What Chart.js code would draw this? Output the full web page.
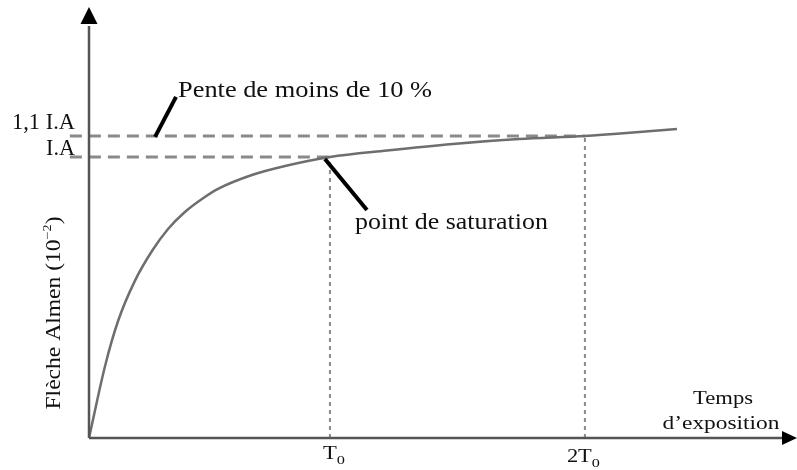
<!DOCTYPE html>
<html lang="fr">
<head>
<meta charset="utf-8">
<title>Flèche Almen</title>
<script src="https://cdn.jsdelivr.net/npm/chart.js@4.4.1/dist/chart.umd.min.js"></script>
<style>
  html, body { margin: 0; padding: 0; background: #fff; }
  canvas { display: block; }
  .preload { font-family: "Liberation Serif"; position: absolute; left: -999px; }
</style>
</head>
<body>
<span class="preload">Pente 10 %</span>
<canvas id="almen" width="797" height="470"></canvas>
<script>
// Saturation curve: exposure time (T0 = 10) against Almen deflection (I.A = 10)
const exposureTimes = [0.55, 1.18, 1.69, 2.35, 3.02, 3.65, 4.31, 4.98, 5.61, 6.94, 8.24,
  10, 12.24, 14.82, 17.41, 20, 21.76, 23.61];
const almenDeflection = [-3.38, 0.05, 2.19, 4.10, 5.52, 6.57, 7.38, 8.00, 8.48, 9.14, 9.57,
  10, 10.31, 10.62, 10.85, 11.00, 11.15, 11.33];

// reference values
const T0 = 10;
const timeMarks = [T0, 2 * T0];
const IA = 10;
const deflectionMarks = [1.1 * IA, IA];
const timeTickLabels = [['T', '0'], ['2T', '0']];
const deflectionTickLabels = ['1,1 I.A', 'I.A'];

// axis bounds
const T_MIN = 0.55, T_MAX = 28.24;
const Y_MIN = -3.38, Y_MAX = 16.9;
const DASH_START = -0.2;

const SERIF = '"Liberation Serif", "Times New Roman", serif';
const INK = '#111';

// draws text runs (text, size, drop) squeezed/stretched to a given width
function drawRuns(ctx, runs, x, y, width, align) {
  let natural = 0;
  runs.forEach(r => {
    ctx.font = r[1] + 'px ' + SERIF;
    natural += ctx.measureText(r[0]).width;
  });
  const left = align === 'right' ? x - width : align === 'center' ? x - width / 2 : x;
  ctx.save();
  ctx.translate(left, y);
  ctx.scale(width / natural, 1);
  ctx.fillStyle = INK;
  ctx.textBaseline = 'alphabetic';
  let cx = 0;
  runs.forEach(r => {
    ctx.font = r[1] + 'px ' + SERIF;
    ctx.fillText(r[0], cx, r[2] || 0);
    cx += ctx.measureText(r[0]).width;
  });
  ctx.restore();
}

function line(ctx, x1, y1, x2, y2, color, w) {
  ctx.beginPath();
  ctx.moveTo(x1, y1);
  ctx.lineTo(x2, y2);
  ctx.strokeStyle = color;
  ctx.lineWidth = w;
  ctx.stroke();
}

const sketchPlugin = {
  id: 'sketch',
  afterDatasetsDraw(chart) {
    const { ctx, chartArea: a, scales: { x, y } } = chart;
    ctx.save();
    ctx.lineCap = 'butt';

    // axes with arrow heads
    line(ctx, a.left, a.bottom, a.left, a.top + 14, '#555', 2.5);
    line(ctx, a.left, a.bottom, a.right - 12, a.bottom, '#555', 2.5);
    ctx.fillStyle = '#000';
    ctx.beginPath();
    ctx.moveTo(a.left, a.top - 5);
    ctx.lineTo(a.left - 8.5, a.top + 12);
    ctx.lineTo(a.left + 8.5, a.top + 12);
    ctx.closePath();
    ctx.fill();
    ctx.beginPath();
    ctx.moveTo(a.right + 2, a.bottom);
    ctx.lineTo(a.right - 13, a.bottom - 7);
    ctx.lineTo(a.right - 13, a.bottom + 7);
    ctx.closePath();
    ctx.fill();

    // leader lines
    const upper = y.getPixelForValue(deflectionMarks[0]);
    const ia = y.getPixelForValue(IA);
    const slopeX = x.getPixelForValue(3.14);
    line(ctx, slopeX, upper + 1, slopeX + 21, upper - 39, '#000', 4);
    const satX = x.getPixelForValue(T0);
    line(ctx, satX - 5, ia + 2, satX + 37, ia + 53, '#000', 4);

    // annotations
    drawRuns(ctx, [['Pente de moins de 10 %', 24]], slopeX + 23, upper - 39, 254, 'left');
    drawRuns(ctx, [['point de saturation', 23]], satX + 25, ia + 72, 193, 'left');

    // y tick labels
    deflectionMarks.forEach((v, i) => {
      const py = y.getPixelForValue(v);
      drawRuns(ctx, [[deflectionTickLabels[i], 23]], 75, py - 7 + (i ? 5 : 0),
        i ? 29 : 63, 'right');
    });

    // x tick labels
    timeMarks.forEach((v, i) => {
      const px = x.getPixelForValue(v);
      const l = timeTickLabels[i];
      const runs = [[l[0], 18], [l[1], 13, 5]];
      if (i === 0) drawRuns(ctx, runs, px - 7, a.bottom + 21, 22, 'left');
      else drawRuns(ctx, runs, px - 18, a.bottom + 24, 33, 'left');
    });

    // axis titles
    drawRuns(ctx, [['Temps', 19]], 723, 404, 60, 'center');
    drawRuns(ctx, [['d\u2019exposition', 19]], 721, 429, 117, 'center');

    ctx.save();
    ctx.translate(60, 313);
    ctx.rotate(-Math.PI / 2);
    drawRuns(ctx, [['Flèche Almen (10', 20], ['\u22122', 12, -9], [')', 20]], 0, 0, 193, 'center');
    ctx.restore();

    ctx.restore();
  }
};

const curve = exposureTimes.map((t, i) => ({ x: t, y: almenDeflection[i] }));

function build() {
  new Chart(document.getElementById('almen'), {
    type: 'scatter',
    data: {
      datasets: [
        {
          data: curve,
          showLine: true,
          borderColor: '#6e6e6e',
          borderWidth: 2.5,
          pointRadius: 0,
          cubicInterpolationMode: 'monotone',
          order: 0
        },
        {
          // 1,1 I.A level up to 2T0
          data: [{ x: DASH_START, y: deflectionMarks[0] }, { x: timeMarks[1], y: deflectionMarks[0] }],
          showLine: true,
          borderColor: '#8a8a8a',
          borderWidth: 3,
          borderDash: [12, 7],
          pointRadius: 0,
          clip: false,
          order: 1
        },
        {
          // I.A level up to T0
          data: [{ x: DASH_START, y: IA }, { x: T0, y: IA }],
          showLine: true,
          borderColor: '#8a8a8a',
          borderWidth: 3,
          borderDash: [12, 7],
          pointRadius: 0,
          clip: false,
          order: 1
        },
        {
          data: [{ x: T0, y: Y_MIN }, { x: T0, y: IA }],
          showLine: true,
          borderColor: '#8a8a8a',
          borderWidth: 2,
          borderDash: [4, 4],
          pointRadius: 0,
          order: 2
        },
        {
          data: [{ x: timeMarks[1], y: Y_MIN }, { x: timeMarks[1], y: deflectionMarks[0] }],
          showLine: true,
          borderColor: '#8a8a8a',
          borderWidth: 2,
          borderDash: [4, 4],
          pointRadius: 0,
          order: 2
        }
      ]
    },
    options: {
      responsive: false,
      devicePixelRatio: 1,
      animation: false,
      layout: { padding: { left: 89, right: 2, top: 12, bottom: 32 } },
      plugins: { legend: { display: false }, tooltip: { enabled: false } },
      scales: {
        x: { type: 'linear', display: false, min: T_MIN, max: T_MAX },
        y: { type: 'linear', display: false, min: Y_MIN, max: Y_MAX }
      }
    },
    plugins: [sketchPlugin]
  });
}

// wait for the serif face so canvas text does not fall back
document.fonts.load('20px "Liberation Serif"').then(build, build);
</script>
</body>
</html>
